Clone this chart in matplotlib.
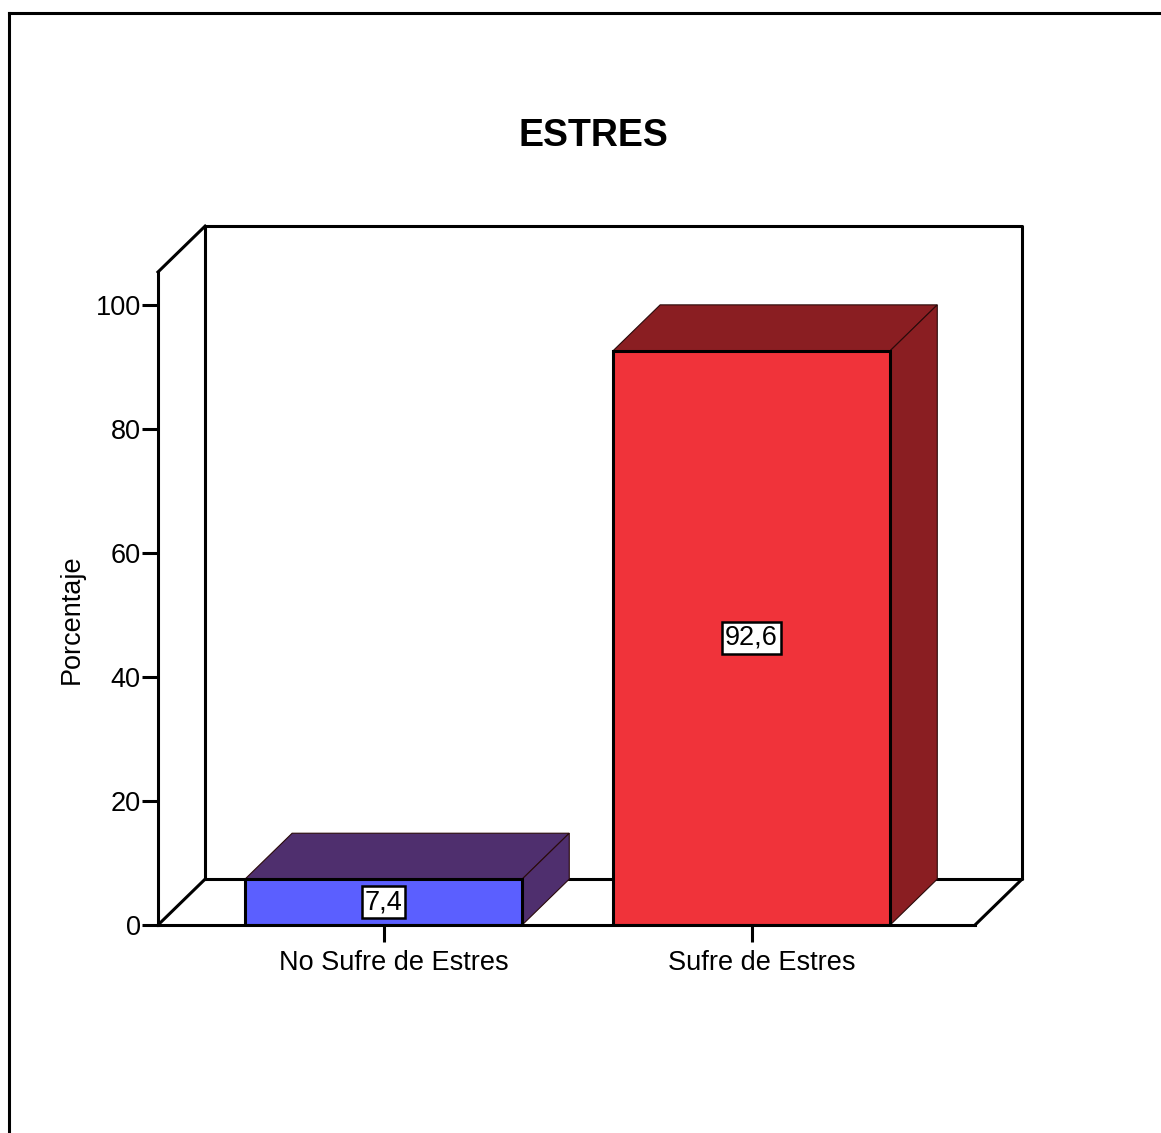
import matplotlib
matplotlib.use("Agg")
from matplotlib import pyplot as plt
from matplotlib import rcParams
from matplotlib import transforms
from matplotlib.patches import Polygon
from matplotlib.lines import Line2D

categories = ["No Sufre de Estres", "Sufre de Estres"]
values = [7.4, 92.6]
value_labels = ["7,4", "92,6"]
yticks = [0, 20, 40, 60, 80, 100]

front_colors = ["#5B5FFF", "#F0333A"]
shade_colors = ["#4F2F6E", "#8A1E22"]

# ------------------------------------------------------------------------------
# Plotting
# ------------------------------------------------------------------------------
rcParams.update({"font.family": "Liberation Sans", "font.size": 19.5})
W, H = 1161, 1133
fig = plt.figure(figsize=(W / 100, H / 100), dpi=100)

# axes from the front floor line (px 925) up to px 272, x from px 158 to 975
ax = fig.add_axes([158 / W, (H - 925) / H, 817 / W, 653 / H])
ax.set_xlim(-0.613, 1.607)
ax.set_ylim(0, 105.3)

dx, dy = 0.128, 7.4   # depth offset (data units)
bw = 0.753
x0, x1 = ax.get_xlim()
y0, y1 = ax.get_ylim()
lw = 2.2

for s in ("top", "right"):
    ax.spines[s].set_visible(False)
for s in ("left", "bottom"):
    ax.spines[s].set_linewidth(lw)
    ax.spines[s].set_zorder(6)

# back wall, left wall top and floor edges
ax.plot([x0 + dx, x0 + dx, x1 + dx, x1 + dx, x0 + dx],
        [y0 + dy, y1 + dy, y1 + dy, y0 + dy, y0 + dy],
        color="black", lw=lw, clip_on=False, zorder=1)
ax.plot([x0, x0 + dx], [y1, y1 + dy], color="black", lw=lw, clip_on=False, zorder=1)
ax.plot([x0, x0 + dx], [y0, y0 + dy], color="black", lw=lw, clip_on=False, zorder=1)
ax.plot([x1, x1 + dx], [y0, y0 + dy], color="black", lw=lw, clip_on=False, zorder=1)

xs = list(range(len(categories)))
for i, v in enumerate(values):
    l, r = xs[i] - bw / 2, xs[i] + bw / 2
    top = Polygon([(l, v), (l + dx, v + dy), (r + dx, v + dy), (r, v)],
                  facecolor=shade_colors[i], edgecolor="#2a0a0a", lw=0.8,
                  clip_on=False, zorder=3)
    side = Polygon([(r, 0), (r, v), (r + dx, v + dy), (r + dx, dy)],
                   facecolor=shade_colors[i], edgecolor="#2a0a0a", lw=0.8,
                   clip_on=False, zorder=3)
    ax.add_patch(top)
    ax.add_patch(side)

ax.bar(xs, values, width=bw, color=front_colors, edgecolor="black",
       linewidth=lw, zorder=4)

for i, v in enumerate(values):
    ax.text(xs[i], v / 2, value_labels[i], ha="center", va="center", zorder=7,
            bbox=dict(boxstyle="square,pad=0.1", facecolor="white",
                      edgecolor="black", linewidth=1.8))

ax.set_xticks(xs)
ax.set_xticklabels(categories)
ax.set_yticks(yticks)
ax.tick_params(axis="y", direction="out", length=11.5, width=lw, pad=1)
ax.tick_params(axis="x", direction="out", length=12, width=lw, pad=6)
shift = transforms.ScaledTranslation(10 / 100, 0, fig.dpi_scale_trans)
for lbl in ax.get_xticklabels():
    lbl.set_transform(lbl.get_transform() + shift)

fig.text(593 / W, 1 - 136 / H, "ESTRES", ha="center", va="center",
         fontsize=27, fontweight="bold")
fig.text(72 / W, 1 - 619 / H, "Porcentaje", ha="center", va="center",
         rotation=90)

# outer frame (top and left visible)
fig.add_artist(Line2D([9 / W, 9 / W], [0, 1 - 13 / H], color="black", lw=2.2,
                      transform=fig.transFigure))
fig.add_artist(Line2D([9 / W, 1], [1 - 13 / H, 1 - 13 / H], color="black",
                      lw=2.2, transform=fig.transFigure))

plt.savefig("out.png", dpi=100)
